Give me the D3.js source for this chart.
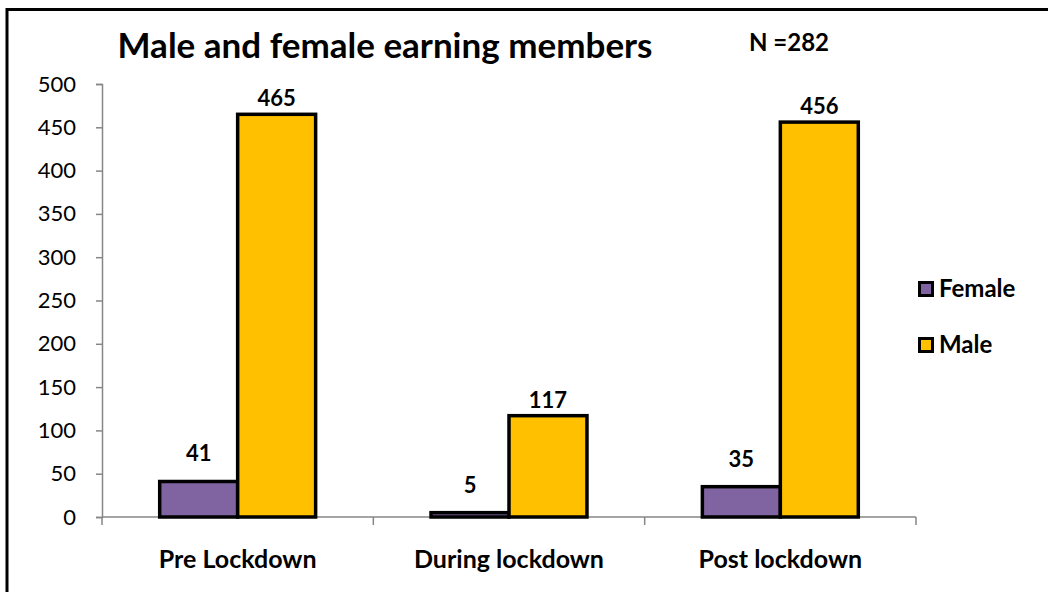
<!DOCTYPE html>
<html>
<head>
<meta charset="utf-8">
<script src="https://cdn.jsdelivr.net/npm/d3@7"></script>
<style>
  body { margin: 0; background: #fff; }
  svg { display: block; font-family: Lato, "Open Sans", sans-serif; }
</style>
</head>
<body>
<div id="chart"></div>
<script>
// data
const categories = ["Pre Lockdown", "During lockdown", "Post lockdown"]
const seriesNames = ["Female", "Male"]
const femaleValues = [41, 5, 35]
const maleValues = [465, 117, 456]
const yTicks = [0, 50, 100, 150, 200, 250, 300, 350, 400, 450, 500]
const title = "Male and female earning members"
const note = "N =282"

const colors = { Female: "#8064A2", Male: "#FFC000" }
const labelGap = { Female: 20, Male: 8 }

const dataset = categories.map((c, i) => ({
    category: c,
    values: [
        { series: "Female", value: femaleValues[i] },
        { series: "Male", value: maleValues[i] }
    ]
}))

// dimensions
const dimensions = {
    width: 1048,
    height: 592,
    margin: { top: 84, right: 132, bottom: 75, left: 102 }
}
dimensions.boundedWidth = dimensions.width - dimensions.margin.left - dimensions.margin.right
dimensions.boundedHeight = dimensions.height - dimensions.margin.top - dimensions.margin.bottom

const wrapper = d3.select("#chart")
    .append("svg")
    .attr("width", dimensions.width)
    .attr("height", dimensions.height)

// outer frame (runs off the right and bottom of the picture)
wrapper.append("rect")
    .attr("x", 7)
    .attr("y", 9.5)
    .attr("width", 1100)
    .attr("height", 700)
    .attr("fill", "none")
    .attr("stroke", "black")
    .attr("stroke-width", 3)

const bounds = wrapper.append("g")
    .attr("transform", `translate(${dimensions.margin.left},${dimensions.margin.top})`)

// scales
const xScale = d3.scaleBand()
    .domain(categories)
    .range([0, dimensions.boundedWidth])
    .padding(0)

const xInner = d3.scaleBand()
    .domain(seriesNames)
    .range([0, xScale.bandwidth()])
    .paddingInner(0)
    .paddingOuter(0.74)

const yScale = d3.scaleLinear()
    .domain([0, 500])
    .range([dimensions.boundedHeight, 0])

// axes
const axisColor = "#868686"

const yAxis = bounds.append("g")
    .call(d3.axisLeft(yScale).tickValues(yTicks).tickSize(6).tickPadding(20).tickSizeOuter(6))
yAxis.selectAll("path, line").attr("stroke", axisColor).attr("stroke-width", 1.5)
yAxis.selectAll("text")
    .attr("fill", "black")
    .style("font-size", "22px")
    .style("font-family", "Lato, sans-serif")

const xAxis = bounds.append("g")
    .attr("transform", `translate(0,${dimensions.boundedHeight})`)
xAxis.append("line")
    .attr("x1", 0)
    .attr("x2", dimensions.boundedWidth)
    .attr("stroke", axisColor)
    .attr("stroke-width", 1.5)
const boundaries = categories.map(c => xScale(c)).concat([dimensions.boundedWidth])
xAxis.selectAll(".bound")
    .data(boundaries)
    .join("line")
    .attr("class", "bound")
    .attr("x1", d => d)
    .attr("x2", d => d)
    .attr("y1", 0)
    .attr("y2", 8)
    .attr("stroke", axisColor)
    .attr("stroke-width", 1.5)
xAxis.selectAll(".cat")
    .data(categories)
    .join("text")
    .attr("class", "cat")
    .attr("x", d => xScale(d) + xScale.bandwidth() / 2)
    .attr("y", 51)
    .attr("text-anchor", "middle")
    .style("font-size", "25px")
    .style("font-weight", "bold")
    .text(d => d)

// bars
const groups = bounds.selectAll(".group")
    .data(dataset)
    .join("g")
    .attr("class", "group")
    .attr("transform", d => `translate(${xScale(d.category)},0)`)

groups.selectAll("rect")
    .data(d => d.values)
    .join("rect")
    .attr("x", d => xInner(d.series))
    .attr("y", d => yScale(d.value))
    .attr("width", xInner.bandwidth())
    .attr("height", d => dimensions.boundedHeight - yScale(d.value))
    .attr("fill", d => colors[d.series])
    .attr("stroke", "black")
    .attr("stroke-width", 3.5)

groups.selectAll(".label")
    .data(d => d.values)
    .join("text")
    .attr("class", "label")
    .attr("x", d => xInner(d.series) + xInner.bandwidth() / 2)
    .attr("y", d => yScale(d.value) - labelGap[d.series])
    .attr("text-anchor", "middle")
    .style("font-size", "22px")
    .style("font-weight", "bold")
    .text(d => d.value)

// title and note
wrapper.append("text")
    .attr("x", 385)
    .attr("y", 58)
    .attr("text-anchor", "middle")
    .style("font-size", "35px")
    .style("font-weight", "bold")
    .text(title)

wrapper.append("text")
    .attr("x", 749)
    .attr("y", 51)
    .style("font-size", "24px")
    .style("font-weight", "bold")
    .text(note)

// legend
const legendGroup = wrapper.append("g")
    .attr("transform", "translate(918,289)")

const legendItems = legendGroup.selectAll("g")
    .data(seriesNames)
    .join("g")
    .attr("transform", (d, i) => `translate(0,${i * 56})`)

legendItems.append("rect")
    .attr("x", 1.5)
    .attr("y", -6.5)
    .attr("width", 13)
    .attr("height", 13)
    .attr("fill", d => colors[d])
    .attr("stroke", "black")
    .attr("stroke-width", 3)

legendItems.append("text")
    .attr("x", 21)
    .attr("y", 8)
    .style("font-size", "24px")
    .style("font-weight", "bold")
    .text(d => d)
</script>
</body>
</html>
